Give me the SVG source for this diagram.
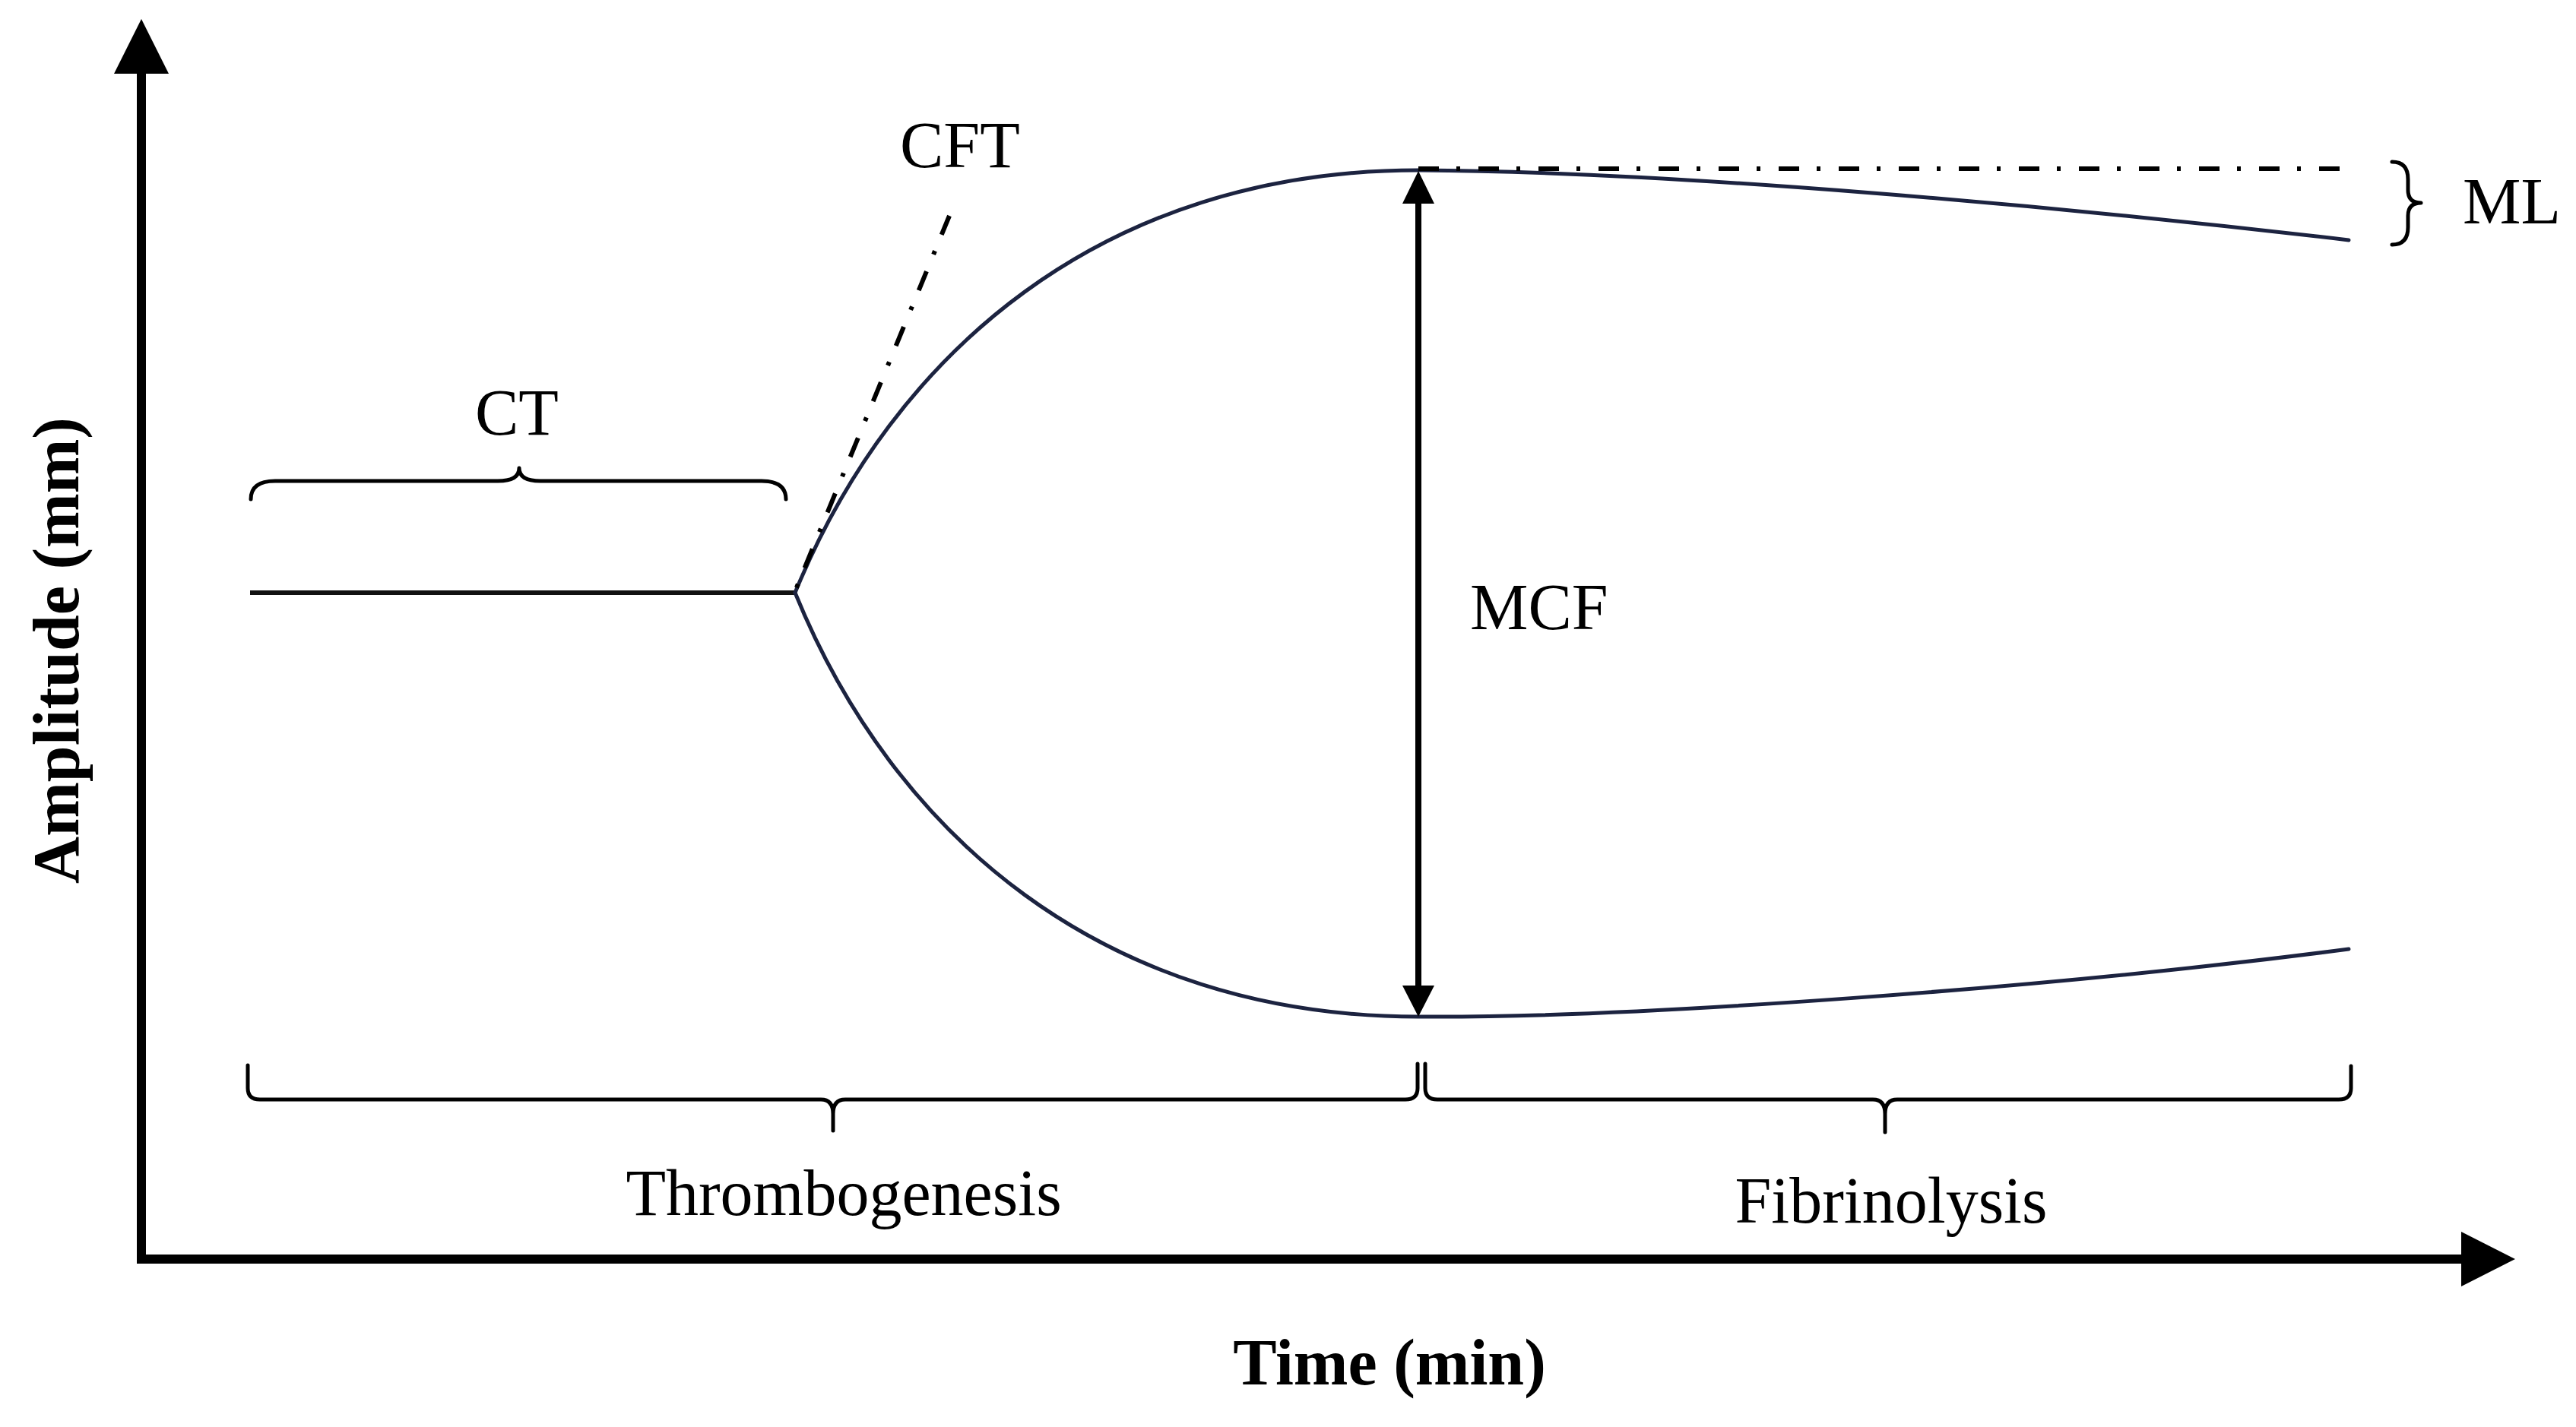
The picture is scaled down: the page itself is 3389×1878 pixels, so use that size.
<svg xmlns="http://www.w3.org/2000/svg" width="3389" height="1878" viewBox="0 0 3389 1878">
<style>
  .lbl { font-family: "Liberation Serif", "Times New Roman", serif; font-size: 86px; fill: #000; }
  .axl { font-family: "Liberation Serif", "Times New Roman", serif; font-size: 86px; font-weight: bold; fill: #000; }
  .curve { fill: none; stroke: #1c2340; stroke-width: 5; stroke-linecap: round; }
  .base { fill: none; stroke: #111; stroke-width: 6; }
  .brace { fill: none; stroke: #000; stroke-width: 5; stroke-linejoin: round; stroke-linecap: round; }
  .dashdot { fill: none; stroke: #000; stroke-width: 6; stroke-dasharray: 27 23 5 24; }
  .axis { stroke: #000; stroke-width: 12; fill: none; }
  .head { fill: #000; }
</style>
<rect width="3389" height="1878" fill="#fff"/>

<g id="axes">
  <line class="axis" x1="186" y1="1663" x2="186" y2="92"/>
  <polygon class="head" points="186,25 150,97 222,97"/>
  <line class="axis" x1="180" y1="1657" x2="3243" y2="1657"/>
  <polygon class="head" points="3309,1657 3238,1621 3238,1693"/>
  <text class="axl" x="1828" y="1822" text-anchor="middle">Time (min)</text>
  <text class="axl" transform="translate(103,856) rotate(-90)" text-anchor="middle">Amplitude (mm)</text>
</g>

<g id="connectors">
  <g id="trace">
    <path class="base" d="M329,780 L1046,780"/>
    <path class="curve" d="M1046,780 C1175,465 1450,224 1866,224 C2200,226 2700,270 3090,316"/>
    <path class="curve" d="M1046,780 C1175,1097 1450,1338 1866,1338 C2150,1340 2700,1300 3090,1249"/>
  </g>
  <g id="cft-tangent">
    <line class="dashdot" x1="1249" y1="284" x2="1046" y2="778"/>
  </g>
  <g id="ml-reference">
    <line class="dashdot" x1="1866" y1="222" x2="3086" y2="222"/>
  </g>
  <g id="mcf-arrow">
    <line x1="1866" y1="262" x2="1866" y2="1302" stroke="#000" stroke-width="8"/>
    <polygon class="head" points="1866,225 1845,268 1887,268"/>
    <polygon class="head" points="1866,1338 1845,1297 1887,1297"/>
  </g>
</g>

<g id="ct">
  <path class="brace" d="M330,657 Q330,633 362,633 L655,633 Q683,633 683,616 Q683,633 711,633 L1002,633 Q1034,633 1034,657"/>
  <text class="lbl" x="625" y="572">CT</text>
</g>

<g id="cft">
  <text class="lbl" x="1184" y="220">CFT</text>
</g>

<g id="mcf">
  <text class="lbl" x="1934" y="828">MCF</text>
</g>

<g id="ml">
  <path class="brace" d="M3147,213 Q3168,213 3168,236 L3168,250 Q3168,267 3185,267 Q3168,267 3168,284 L3168,299 Q3168,322 3147,322"/>
  <text class="lbl" x="3240" y="294">ML</text>
</g>

<g id="thrombogenesis">
  <path class="brace" d="M326,1402 L326,1432 Q326,1447 342,1447 L1080,1447 Q1096,1447 1096,1466 L1096,1488 M1096,1466 Q1096,1447 1112,1447 L1849,1447 Q1865,1447 1865,1432 L1865,1400"/>
  <text class="lbl" x="1110" y="1599" text-anchor="middle">Thrombogenesis</text>
</g>

<g id="fibrinolysis">
  <path class="brace" d="M1875,1400 L1875,1432 Q1875,1447 1891,1447 L2464,1447 Q2480,1447 2480,1466 L2480,1490 M2480,1466 Q2480,1447 2496,1447 L3077,1447 Q3093,1447 3093,1432 L3093,1403"/>
  <text class="lbl" x="2488" y="1609" text-anchor="middle">Fibrinolysis</text>
</g>
</svg>
